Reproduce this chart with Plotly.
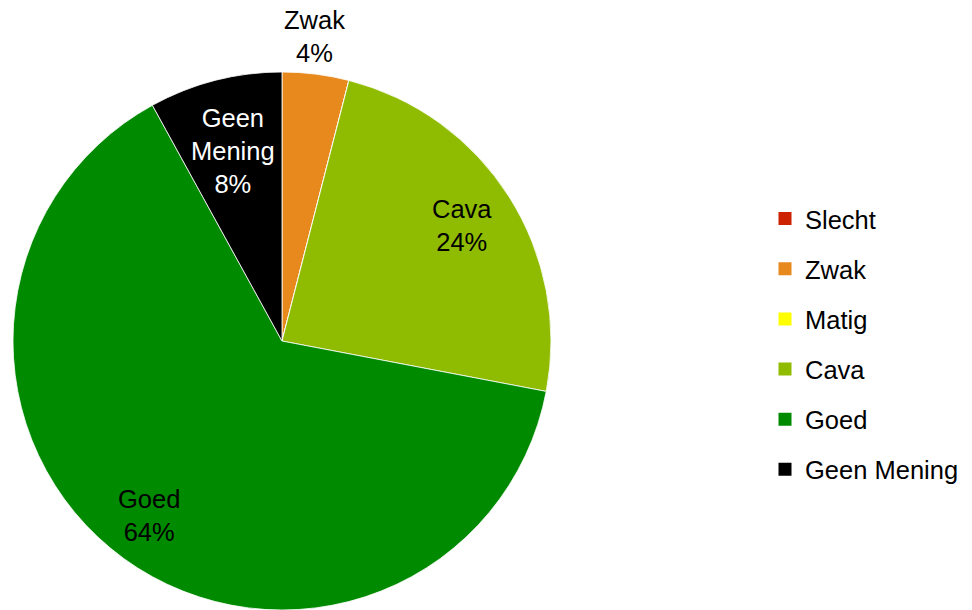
import math
import plotly.graph_objects as go

categories = ["Slecht", "Zwak", "Matig", "Cava", "Goed", "Geen Mening"]
values = [0, 4, 0, 24, 64, 8]
colors = ["#CC2200", "#E8891E", "#FFFF00", "#8FBC00", "#008A00", "#000000"]

# label styling (position factor relative to radius, x shift in px, text colour)
label_style = {
    "Zwak": (1.14, -6, "#000000"),
    "Cava": (0.80, -2, "#000000"),
    "Goed": (0.80, -7, "#000000"),
    "Geen Mening": (0.73, 0, "#FFFFFF"),
}

W, H = 972, 610
ml, mr, mt, mb = 12, 0, 72, 0
pw, ph = W - ml - mr, H - mt - mb
dom_x = [0, 540 / pw]
r = min(dom_x[1] * pw, ph) / 2
cx = ml + dom_x[1] * pw / 2
cy = mt + ph / 2

FONT = "Liberation Sans, Arial, sans-serif"
FS = 25.5

fig = go.Figure()
fig.add_trace(go.Pie(
    labels=categories, values=values, sort=False, direction="clockwise",
    rotation=0, marker=dict(colors=colors, line=dict(color="white", width=0.8)),
    textinfo="none", hoverinfo="label+percent", showlegend=False,
    domain=dict(x=dom_x, y=[0, 1]),
))

# legend via marker-only traces (to allow item spacing like the original)
for i, (c, col) in enumerate(zip(categories, colors)):
    fig.add_trace(go.Scatter(
        x=[None], y=[None], mode="markers", name=c,
        marker=dict(symbol="square", size=13, color=col),
        legendgroup=f"g{i}", showlegend=True,
    ))

total = sum(values)
cum = 0
annotations = []
for c, v in zip(categories, values):
    if v > 0:
        mid = (cum + v / 2) / total * 2 * math.pi
        k, xs, tc = label_style[c]
        px = cx + k * r * math.sin(mid)
        py = cy - k * r * math.cos(mid)
        pct = round(v / total * 100)
        txt = c.replace(" ", "<br>") + f"<br>{pct}%"
        annotations.append(dict(
            x=(px - ml) / pw, y=(H - mb - py) / ph, xref="paper", yref="paper",
            text=txt, showarrow=False, xanchor="center", yanchor="middle", xshift=xs,
            font=dict(family=FONT, size=FS, color=tc), align="center",
        ))
    cum += v

fig.update_layout(
    width=W, height=H,
    margin=dict(l=ml, r=mr, t=mt, b=mb),
    paper_bgcolor="white", plot_bgcolor="white",
    xaxis=dict(visible=False), yaxis=dict(visible=False),
    annotations=annotations,
    legend=dict(
        x=(765 - ml) / pw, xanchor="left", y=(H - mb - 344) / ph, yanchor="middle",
        font=dict(family=FONT, size=FS, color="#000000"),
        tracegroupgap=14, bgcolor="rgba(0,0,0,0)",
    ),
    font=dict(family=FONT),
)

fig.write_html("out.html", config={"displayModeBar": False},
               post_script="document.body.style.margin='0';")
